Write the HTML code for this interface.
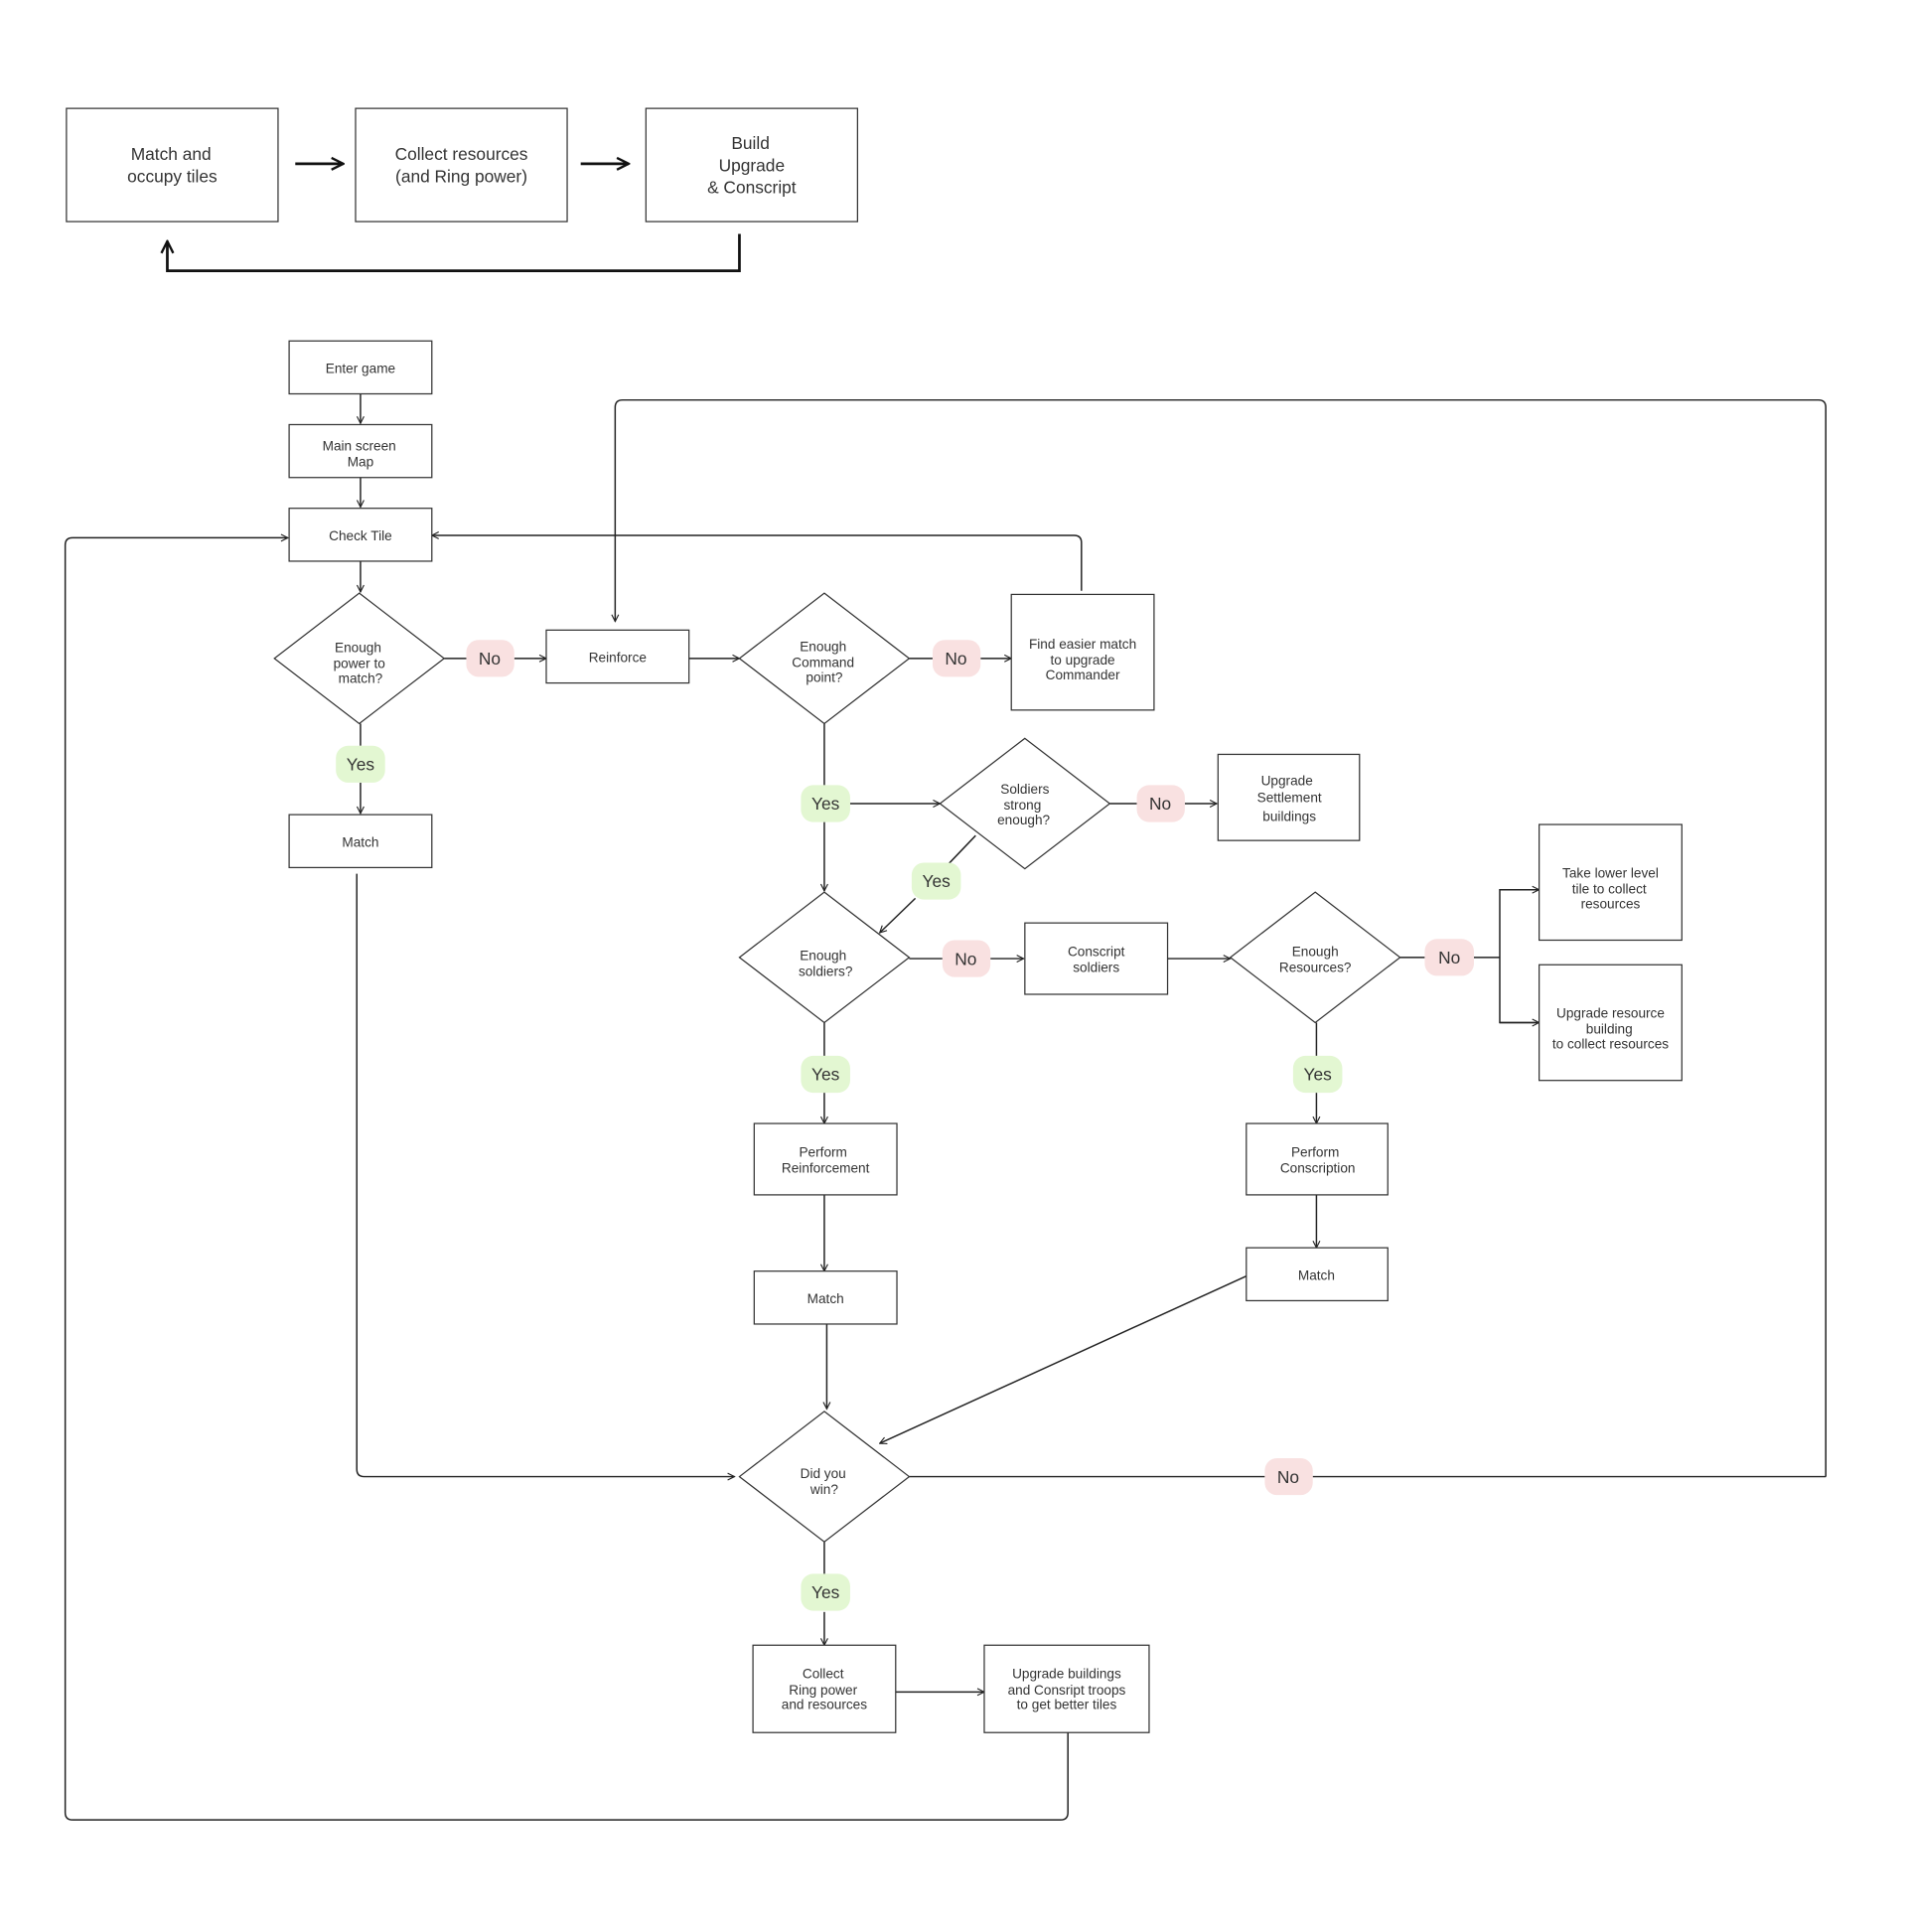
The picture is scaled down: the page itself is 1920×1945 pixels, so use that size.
<!DOCTYPE html>
<html><head><meta charset="utf-8"><style>
html,body{margin:0;padding:0;background:#fff;}
svg{display:block;}
text{font-family:"Liberation Sans",sans-serif;fill:#333;}
</style></head><body>
<svg width="1920" height="1945" viewBox="0 0 1550 1570" xmlns="http://www.w3.org/2000/svg">
<defs>
<marker id="a" viewBox="0 0 10 10" refX="9" refY="5" markerWidth="7" markerHeight="7" orient="auto" markerUnits="userSpaceOnUse">
<path d="M1,1 L9,5 L1,9" fill="none" stroke="#222" stroke-width="1.3"/></marker>
<marker id="b" viewBox="0 0 10 10" refX="9" refY="5" markerWidth="12" markerHeight="12" orient="auto" markerUnits="userSpaceOnUse">
<path d="M1,1 L9,5 L1,9" fill="none" stroke="#111" stroke-width="1.6"/></marker>
</defs>
<rect width="1550" height="1570" fill="#fff"/>
<!-- top row -->
<g fill="#fff" stroke="#333" stroke-width="1">
<rect x="54" y="88" width="172" height="92"/>
<rect x="289" y="88" width="172" height="92"/>
<rect x="525" y="88" width="172" height="92"/>
</g>
<g font-size="14" text-anchor="middle">
<text x="139" y="130">Match and</text><text x="140" y="148">occupy tiles</text>
<text x="375" y="130">Collect resources</text><text x="375" y="148">(and Ring power)</text>
<text x="610" y="121">Build</text><text x="611" y="139">Upgrade</text><text x="611" y="157">&amp; Conscript</text>
</g>
<g stroke="#111" stroke-width="2.2" fill="none">
<line x1="240" y1="133" x2="279" y2="133" marker-end="url(#b)"/>
<line x1="472" y1="133" x2="511" y2="133" marker-end="url(#b)"/>
<polyline points="601,190 601,220 136,220 136,196" marker-end="url(#b)"/>
</g>

<!-- connectors -->
<g stroke="#222" stroke-width="1.2" fill="none">
<line x1="293" y1="320" x2="293" y2="344" marker-end="url(#a)"/>
<line x1="293" y1="388" x2="293" y2="412" marker-end="url(#a)"/>
<line x1="293" y1="456" x2="293" y2="481" marker-end="url(#a)"/>
<line x1="361" y1="535" x2="380" y2="535"/>
<line x1="418" y1="535" x2="444" y2="535" marker-end="url(#a)"/>
<line x1="293" y1="588" x2="293" y2="606"/>
<line x1="293" y1="636" x2="293" y2="661" marker-end="url(#a)"/>
<line x1="560" y1="535" x2="601" y2="535" marker-end="url(#a)"/>
<line x1="739" y1="535" x2="758" y2="535"/>
<line x1="797" y1="535" x2="822" y2="535" marker-end="url(#a)"/>
<path d="M879,480 V441 Q879,435 873,435 H351" marker-end="url(#a)"/>
<path d="M1484,1200 V331 Q1484,325 1478,325 H506 Q500,325 500,331 V505" marker-end="url(#a)"/>
<line x1="670" y1="588" x2="670" y2="638"/>
<line x1="670" y1="668" x2="670" y2="724" marker-end="url(#a)"/>
<line x1="691" y1="653" x2="764" y2="653" marker-end="url(#a)"/>
<line x1="902" y1="653" x2="924" y2="653"/>
<line x1="963" y1="653" x2="989" y2="653" marker-end="url(#a)"/>
<line x1="793" y1="679" x2="771" y2="702"/>
<line x1="744" y1="730" x2="715" y2="758" marker-end="url(#a)"/>
<line x1="739" y1="779" x2="766" y2="779"/>
<line x1="805" y1="779" x2="832" y2="779" marker-end="url(#a)"/>
<line x1="949" y1="779" x2="1000" y2="779" marker-end="url(#a)"/>
<line x1="1138" y1="778" x2="1158" y2="778"/>
<line x1="1198" y1="778" x2="1219" y2="778"/>
<polyline points="1251,723 1219,723 1219,831 1251,831" />
<line x1="1219" y1="723" x2="1251" y2="723" marker-end="url(#a)"/>
<line x1="1219" y1="831" x2="1251" y2="831" marker-end="url(#a)"/>
<line x1="670" y1="831" x2="670" y2="858"/>
<line x1="670" y1="888" x2="670" y2="913" marker-end="url(#a)"/>
<line x1="670" y1="971" x2="670" y2="1033" marker-end="url(#a)"/>
<line x1="672" y1="1076" x2="672" y2="1145" marker-end="url(#a)"/>
<line x1="1070" y1="831" x2="1070" y2="858"/>
<line x1="1070" y1="888" x2="1070" y2="913" marker-end="url(#a)"/>
<line x1="1070" y1="971" x2="1070" y2="1014" marker-end="url(#a)"/>
<line x1="1013" y1="1037" x2="715" y2="1173" marker-end="url(#a)"/>
<path d="M290,710 V1194 Q290,1200 296,1200 H597" marker-end="url(#a)"/>
<line x1="739" y1="1200" x2="1028" y2="1200"/>
<line x1="1067" y1="1200" x2="1484" y2="1200"/>
<line x1="670" y1="1253" x2="670" y2="1280"/>
<line x1="670" y1="1310" x2="670" y2="1337" marker-end="url(#a)"/>
<line x1="728" y1="1375" x2="800" y2="1375" marker-end="url(#a)"/>
<path d="M868,1408 V1473 Q868,1479 862,1479 H59 Q53,1479 53,1473 V443 Q53,437 59,437 H234" marker-end="url(#a)"/>
</g>

<!-- boxes -->
<g fill="#fff" stroke="#333" stroke-width="1">
<rect x="235" y="277" width="116" height="43"/>
<rect x="235" y="345" width="116" height="43"/>
<rect x="235" y="413" width="116" height="43"/>
<rect x="235" y="662" width="116" height="43"/>
<rect x="444" y="512" width="116" height="43"/>
<rect x="822" y="483" width="116" height="94"/>
<rect x="990" y="613" width="115" height="70"/>
<rect x="833" y="750" width="116" height="58"/>
<rect x="1251" y="670" width="116" height="94"/>
<rect x="1251" y="784" width="116" height="94"/>
<rect x="613" y="913" width="116" height="58"/>
<rect x="613" y="1033" width="116" height="43"/>
<rect x="1013" y="913" width="115" height="58"/>
<rect x="1013" y="1014" width="115" height="43"/>
<rect x="612" y="1337" width="116" height="71"/>
<rect x="800" y="1337" width="134" height="71"/>
<polygon points="292,482 361,535 292,588 223,535"/>
<polygon points="670,482 739,535 670,588 601,535"/>
<polygon points="833,600 902,653 833,706 764,653"/>
<polygon points="670,725 739,778 670,831 601,778"/>
<polygon points="1069,725 1138,778 1069,831 1000,778"/>
<polygon points="670,1147 739,1200 670,1253 601,1200"/>
</g>

<!-- pills -->
<g>
<g fill="#f9e1e1">
<rect x="379" y="520" width="39" height="30" rx="10"/>
<rect x="758" y="520" width="39" height="30" rx="10"/>
<rect x="924" y="638" width="39" height="30" rx="10"/>
<rect x="766" y="764" width="39" height="30" rx="10"/>
<rect x="1158" y="763" width="40" height="30" rx="10"/>
<rect x="1028" y="1185" width="39" height="30" rx="10"/>
</g>
<g fill="#e3f7d2">
<rect x="273" y="606" width="40" height="30" rx="10"/>
<rect x="651" y="638" width="40" height="30" rx="10"/>
<rect x="741" y="701" width="40" height="30" rx="10"/>
<rect x="651" y="858" width="40" height="30" rx="10"/>
<rect x="1051" y="858" width="40" height="30" rx="10"/>
<rect x="651" y="1279" width="40" height="30" rx="10"/>
</g>
<g font-size="14" text-anchor="middle">
<text x="398" y="540">No</text><text x="777" y="540">No</text><text x="943" y="658">No</text>
<text x="785" y="784">No</text><text x="1178" y="783">No</text><text x="1047" y="1205">No</text>
<text x="293" y="626">Yes</text><text x="671" y="658">Yes</text><text x="761" y="721">Yes</text>
<text x="671" y="878">Yes</text><text x="1071" y="878">Yes</text><text x="671" y="1299">Yes</text>
</g>
</g>

<!-- labels -->
<g font-size="11" text-anchor="middle">
<text x="293" y="303">Enter game</text>
<text x="292" y="366">Main screen</text><text x="293" y="379">Map</text>
<text x="293" y="439">Check Tile</text>
<text x="293" y="688">Match</text>
<text x="502" y="538">Reinforce</text>
<text x="291" y="530">Enough</text><text x="292" y="543">power to</text><text x="293" y="555">match?</text>
<text x="669" y="529">Enough</text><text x="669" y="542">Command</text><text x="670" y="554">point?</text>
<text x="880" y="527">Find easier match</text><text x="880" y="540">to upgrade</text><text x="880" y="552">Commander</text>
<text x="833" y="645">Soldiers</text><text x="831" y="658">strong</text><text x="832" y="670">enough?</text>
<text x="1046" y="638">Upgrade</text><text x="1048" y="652">Settlement</text><text x="1048" y="667">buildings</text>
<text x="669" y="780">Enough</text><text x="671" y="793">soldiers?</text>
<text x="891" y="777">Conscript</text><text x="891" y="790">soldiers</text>
<text x="1069" y="777">Enough</text><text x="1069" y="790">Resources?</text>
<text x="1309" y="713">Take lower level</text><text x="1308" y="726">tile to collect</text><text x="1309" y="738">resources</text>
<text x="1309" y="827">Upgrade resource</text><text x="1308" y="840">building</text><text x="1309" y="852">to collect resources</text>
<text x="669" y="940">Perform</text><text x="671" y="953">Reinforcement</text>
<text x="671" y="1059">Match</text>
<text x="1069" y="940">Perform</text><text x="1071" y="953">Conscription</text>
<text x="1070" y="1040">Match</text>
<text x="669" y="1201">Did you</text><text x="670" y="1214">win?</text>
<text x="669" y="1364">Collect</text><text x="669" y="1377">Ring power</text><text x="670" y="1389">and resources</text>
<text x="867" y="1364">Upgrade buildings</text><text x="867" y="1377">and Consript troops</text><text x="867" y="1389">to get better tiles</text>
</g>
</svg>
</body></html>
